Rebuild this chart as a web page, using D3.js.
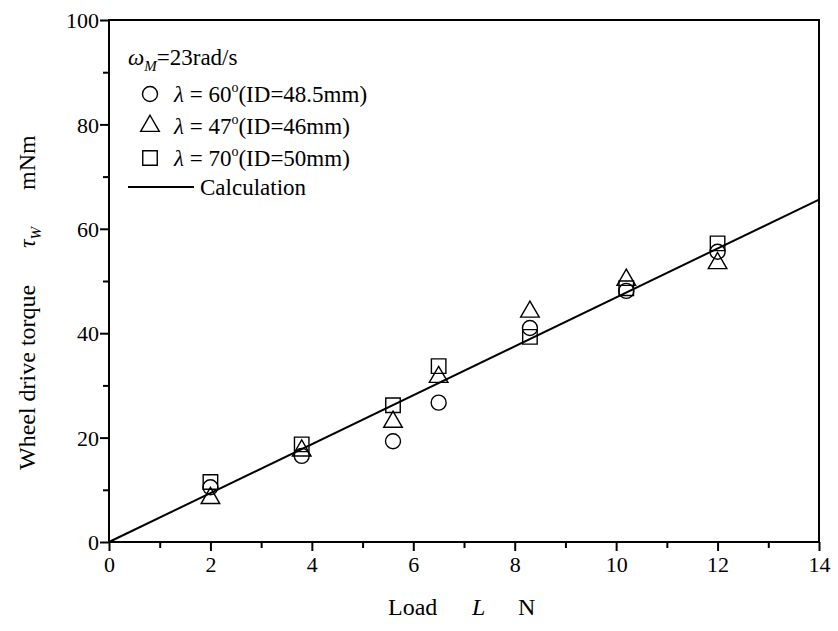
<!DOCTYPE html>
<html><head><meta charset="utf-8">
<script src="https://cdn.jsdelivr.net/npm/d3@7"></script>
<style>body{margin:0;background:#fff}svg{display:block}</style>
</head><body><svg id="c" width="838" height="631"></svg>
<script>
const loads = [2, 3.8, 5.6, 6.5, 8.3, 10.2, 12];
const circle60 = [10.5, 16.5, 19.3, 26.7, 41.0, 48.1, 55.6];
const triangle47 = [8.4, 17.5, 23.0, 31.6, 44.1, 50.2, 53.4];
const square70 = [11.5, 18.7, 26.2, 33.7, 39.3, 48.6, 57.2];
const calcX = [0, 14];
const calcY = [0, 65.6];
const xTicks = [0, 2, 4, 6, 8, 10, 12, 14];
const yTicks = [0, 20, 40, 60, 80, 100];

const svg = d3.select("#c");
const L = 109, R = 819, T = 20, B = 542;
const x = d3.scaleLinear().domain([0, 14]).range([L, R]);
const y = d3.scaleLinear().domain([0, 100]).range([B, T]);
const SERIF = '"Liberation Serif", "Times New Roman", Times, serif';

svg.append("rect").attr("x", L).attr("y", T).attr("width", R - L).attr("height", B - T)
  .attr("fill", "none").attr("stroke", "#000").attr("stroke-width", 2);

const xa = svg.append("g").attr("transform", `translate(0,${B})`)
  .call(d3.axisBottom(x).tickValues(d3.range(0, 15, 1)).tickSize(8).tickFormat(d => xTicks.includes(d) ? d : ""));
xa.select(".domain").remove();
xa.selectAll("line").attr("stroke-width", 2).attr("y2", d => xTicks.includes(d) ? 9 : 6);
xa.selectAll("text").attr("font-size", 22).attr("dy", "0.95em").attr("y", 9);

const ya = svg.append("g").attr("transform", `translate(${L},0)`)
  .call(d3.axisLeft(y).tickValues(d3.range(0, 101, 10)).tickSize(8).tickFormat(d => yTicks.includes(d) ? d : ""));
ya.select(".domain").remove();
ya.selectAll("line").attr("stroke-width", 2).attr("x2", d => yTicks.includes(d) ? -9 : -6);
ya.selectAll("text").attr("font-size", 22).attr("x", -10).attr("dy", "0.35em");

// x label
svg.append("text").attr("x", 388).attr("y", 615).attr("font-size", 24).text("Load");
svg.append("text").attr("x", 472).attr("y", 615).attr("font-size", 24).attr("font-style", "italic").text("L");
svg.append("text").attr("x", 518).attr("y", 615).attr("font-size", 24).text("N");

// y label
const yl = svg.append("g").attr("transform", `translate(35,0) rotate(-90)`);
yl.append("text").attr("x", -470).attr("y", 0).attr("font-size", 24).text("Wheel drive torque");
const tw = yl.append("text").attr("x", -248).attr("y", 0).attr("font-size", 24);
tw.append("tspan").attr("font-style", "italic").text("τ");
tw.append("tspan").attr("font-style", "italic").attr("font-size", 15).attr("dy", 6).text("W");
yl.append("text").attr("x", -190).attr("y", 0).attr("font-size", 24).text("mNm");

svg.append("path").datum(calcX.map((d, i) => [d, calcY[i]]))
  .attr("d", d3.line().x(d => x(d[0])).y(d => y(d[1])))
  .attr("fill", "none").attr("stroke", "#000").attr("stroke-width", 2);

const sym = {
  circle: d3.symbol().type(d3.symbolCircle).size(Math.PI * 7.5 * 7.5),
  triangle: d3.symbol().type(d3.symbolTriangle).size(150),
  square: d3.symbol().type(d3.symbolSquare).size(210)
};
function draw(vals, s) {
  svg.append("g").selectAll("path").data(vals).join("path")
    .attr("d", sym[s]())
    .attr("transform", (d, i) => `translate(${x(loads[i])},${y(d)})`)
    .attr("fill", "none").attr("stroke", "#000").attr("stroke-width", 1.4);
}
draw(circle60, "circle");
draw(triangle47, "triangle");
draw(square70, "square");

// legend
const lg = svg.append("g");
const w = lg.append("text").attr("x", 128).attr("y", 65).attr("font-size", 23);
w.append("tspan").attr("font-style", "italic").text("ω");
w.append("tspan").attr("font-style", "italic").attr("font-size", 15).attr("dy", 6).text("M");
w.append("tspan").attr("dy", -6).text("=23rad/s");

const items = [
  {s: "circle", deg: "60", id: "48.5mm", yy: 94},
  {s: "triangle", deg: "47", id: "46mm", yy: 126},
  {s: "square", deg: "70", id: "50mm", yy: 158}
];
items.forEach(it => {
  lg.append("path").attr("d", sym[it.s]()).attr("transform", `translate(150,${it.yy})`)
    .attr("fill", "none").attr("stroke", "#000").attr("stroke-width", 1.4);
  const t = lg.append("text").attr("x", 174).attr("y", it.yy + 8).attr("font-size", 23);
  t.append("tspan").attr("font-style", "italic").text("λ");
  t.append("tspan").text(" = " + it.deg);
  t.append("tspan").attr("font-size", 14).attr("dy", -10).text("o");
  t.append("tspan").attr("dy", 10).text("(ID=" + it.id + ")");
});
lg.append("line").attr("x1", 128).attr("x2", 194).attr("y1", 187).attr("y2", 187)
  .attr("stroke", "#000").attr("stroke-width", 2);
lg.append("text").attr("x", 200).attr("y", 195).attr("font-size", 23).text("Calculation");

svg.selectAll("text").style("font-family", SERIF).style("fill", "#000");
</script></body></html>
